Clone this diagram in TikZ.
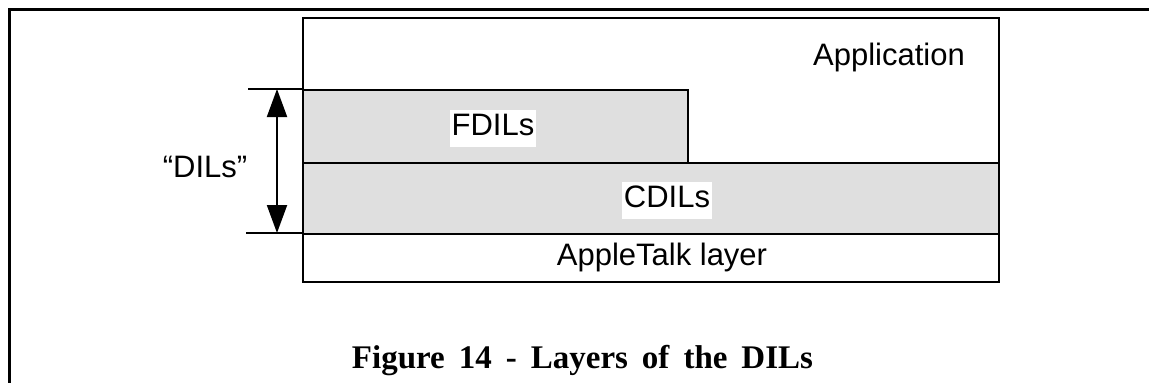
\documentclass[tikz,border=0pt]{standalone}
\usepackage{fontspec}
\setmainfont{Liberation Serif}
\setsansfont{Liberation Sans}
\usetikzlibrary{arrows.meta}
\definecolor{layergray}{HTML}{DFDFDF}
\begin{document}
\begin{tikzpicture}[x=1pt,y=-1pt,
  layer/.style={draw=black,line width=2pt,rectangle,inner sep=0pt,anchor=north west},
  lbl/.style={font=\sffamily\fontsize{31}{31}\selectfont,inner sep=1pt},
  wlbl/.style={lbl,fill=white,inner xsep=1.5pt,inner ysep=0pt,text height=26pt,text depth=11pt},
  dim/.style={line width=2pt},
  frame/.style={line width=3pt}]
\useasboundingbox (0,0) rectangle (1149,383);
% outer frame (only left and top edges are visible)
\coordinate (fbl) at (9,390);
\coordinate (ftl) at (9,9);
\coordinate (ftr) at (1160,9);
\draw[frame] (fbl) -- (ftl) -- (ftr);
% layers
\node[layer,fill=white,minimum width=696pt,minimum height=264pt] (app) at (302,17) {};
\node[layer,fill=layergray,minimum width=696pt,minimum height=71pt] (cd) at (302,162) {};
\node[layer,fill=layergray,minimum width=385pt,minimum height=73pt] (fd) at (302,89) {};
\node[layer,fill=white,minimum width=696pt,minimum height=48pt] (at) at (302,233) {};
% labels
\node[lbl] (appl) at (889,57) {Application};
\node[wlbl] (fdl) at (493,128) {FDILs};
\node[wlbl] (cdl) at (667,200) {CDILs};
\node[lbl] (atl) at (662,257) {AppleTalk layer};
\node[lbl] (dils) at (205,167) {“DILs”};
% dimension lines
\coordinate (d1) at (248,89);
\coordinate (d2) at (246,233);
\draw[dim] (d1) -- (fd.north west);
\draw[dim] (d2) -- (at.north west);
\coordinate (a1) at (277,89);
\coordinate (a2) at (277,233);
\draw[dim,{Triangle[width=20pt,length=28pt]}-{Triangle[width=20pt,length=28pt]}] (a1) -- (a2);
% caption
\node[font=\bfseries\fontsize{33}{33}\selectfont,inner sep=0pt,anchor=base] (cap) at (582.5,368) {\spaceskip=14pt plus 0pt minus 0pt Figure 14 - Layers of the DILs};
\end{tikzpicture}
\end{document}
